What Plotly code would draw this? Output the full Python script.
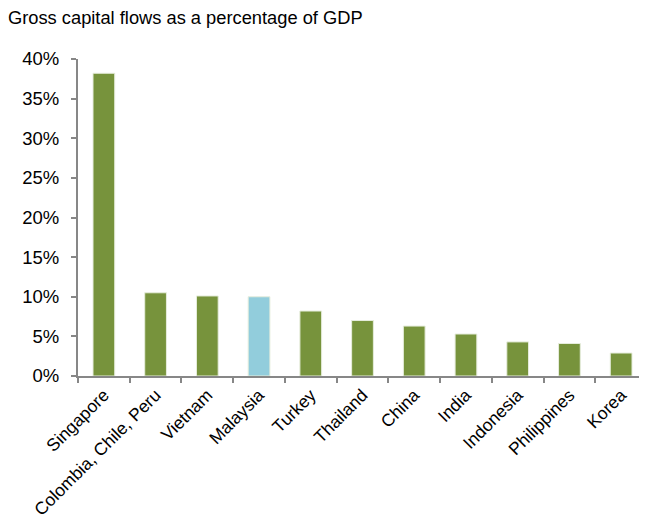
import plotly.graph_objects as go

categories = ["Singapore", "Colombia, Chile, Peru", "Vietnam", "Malaysia", "Turkey",
              "Thailand", "China", "India", "Indonesia", "Philippines", "Korea"]
values = [38.2, 10.5, 10.1, 10.0, 8.2, 7.0, 6.3, 5.3, 4.3, 4.1, 2.9]
highlight = "Malaysia"
y_ticks = [0, 5, 10, 15, 20, 25, 30, 35, 40]
y_tick_labels = [f"{v}%" for v in y_ticks]

green = "#77933C"
blue = "#92CDDC"
colors = [blue if c == highlight else green for c in categories]

fig = go.Figure(go.Bar(
    x=categories, y=values,
    marker=dict(color=colors, line=dict(color="#e6eddc", width=1)),
    width=0.42,
))

fig.update_layout(
    width=639, height=517,
    margin=dict(l=70, r=0, t=51, b=149, autoexpand=False),
    plot_bgcolor="white", paper_bgcolor="white",
    font=dict(family="Liberation Sans, Arial, sans-serif", color="black"),
    showlegend=False,
    title=dict(text="Gross capital flows as a percentage of GDP", x=0.0, xanchor="left",
               xref="container", y=0.981, yanchor="middle", font=dict(size=18.3)),
)
fig.update_xaxes(
    showline=True, linecolor="#878787", linewidth=2,
    ticks="outside", tickson="boundaries", ticklen=5, tickcolor="#878787", tickwidth=2,
    tickangle=-45, tickfont=dict(size=17.5), automargin=False,
    showgrid=False,
)
fig.update_yaxes(
    range=[0, 40], tickvals=y_ticks, ticktext=y_tick_labels,
    showline=True, linecolor="#878787", linewidth=2,
    ticks="outside", ticklen=5, tickcolor="#878787", tickwidth=2,
    ticklabelstandoff=8, automargin=False,
    tickfont=dict(size=18.5), showgrid=False, zeroline=False,
)

fig.write_html("out.html")
